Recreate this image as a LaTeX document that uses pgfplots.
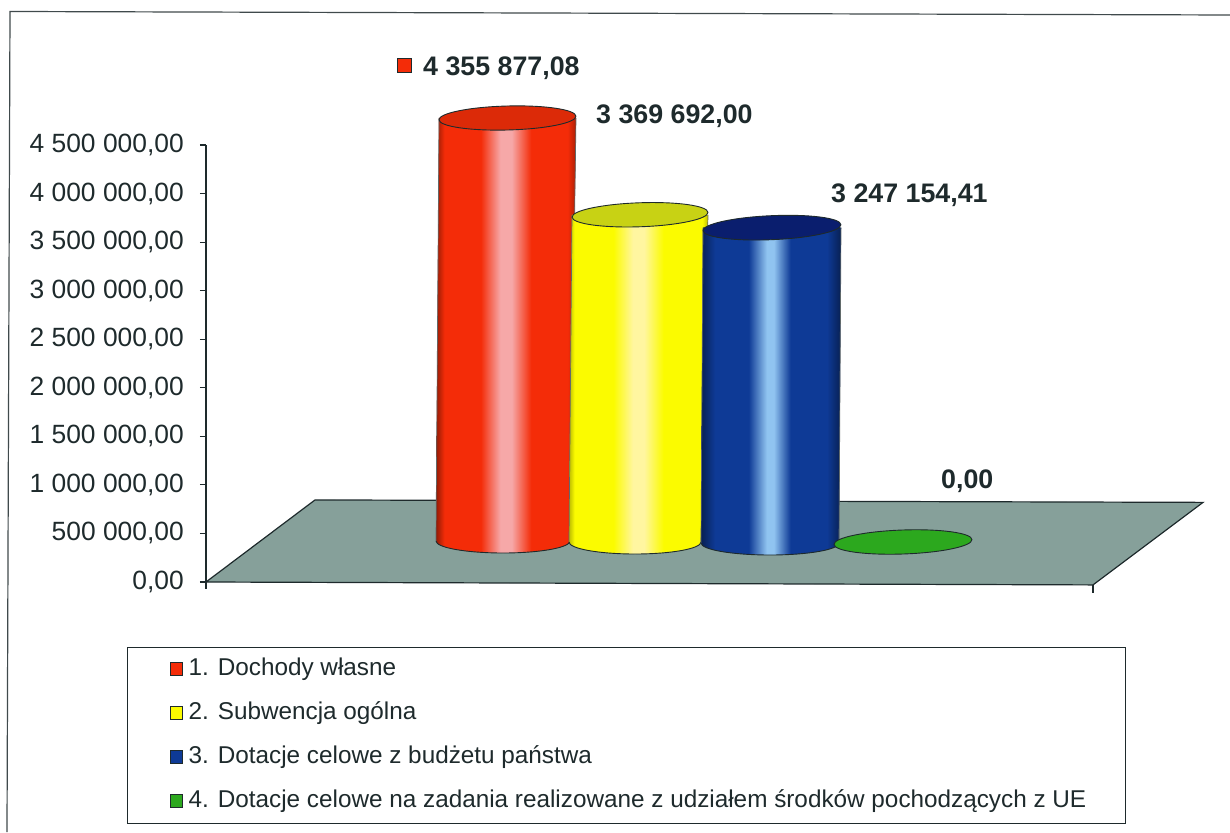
\documentclass[border=0pt]{standalone}
\usepackage{pgfplots}
\pgfplotsset{compat=1.18}
\usepackage{fontspec}
\setmainfont{Liberation Sans}
\definecolor{ink}{HTML}{1E2A2C}
\definecolor{plate}{HTML}{86A09A}
\definecolor{rc}{HTML}{F42C08}
\definecolor{rh}{HTML}{F6A8A8}
\definecolor{rt}{HTML}{DC2A08}
\definecolor{yc}{HTML}{FBFB00}
\definecolor{yh}{HTML}{FFF6A0}
\definecolor{yt}{HTML}{C8D214}
\definecolor{bc}{HTML}{0E3A96}
\definecolor{bh}{HTML}{90C4F0}
\definecolor{bt}{HTML}{0A1E6E}
\definecolor{gc}{HTML}{2CA81E}
\pgfdeclarehorizontalshading{redcyl}{100bp}{color(0bp)=(rc!60!black);color(25bp)=(rc!60!black);color(28bp)=(rc);color(41bp)=(rc);color(48bp)=(rh);color(52bp)=(rh);color(59bp)=(rc);color(72bp)=(rc);color(75bp)=(rc!70!black);color(100bp)=(rc!70!black)}
\pgfdeclarehorizontalshading{yelcyl}{100bp}{color(0bp)=(yc!75!black);color(25bp)=(yc!75!black);color(27bp)=(yc);color(41bp)=(yc);color(48bp)=(yh);color(52bp)=(yh);color(59bp)=(yc);color(73bp)=(yc);color(75bp)=(yc!75!black);color(100bp)=(yc!75!black)}
\pgfdeclarehorizontalshading{blucyl}{100bp}{color(0bp)=(bc!55!black);color(25bp)=(bc!55!black);color(30bp)=(bc);color(42bp)=(bc);color(48.5bp)=(bh);color(51bp)=(bh);color(57bp)=(bc);color(70bp)=(bc);color(75bp)=(bc!55!black);color(100bp)=(bc!55!black)}
% #1 shading, #2 value, #3 lift of the base above the axis zero (pt)
% #4 bottom left x, #5 top left x, #6 top right x, #7 bottom right x, #8 bottom x radius
\newcommand{\cylbody}[8]{%
  \path[shading=#1,yshift=#3pt] (axis cs:#4,0) arc[start angle=180,end angle=360,x radius=#8pt,y radius=12pt] -- (axis cs:#6,#2) -- (axis cs:#5,#2) -- cycle;
  \addplot[forget plot,draw=none,shading=#1,yshift=#3pt] coordinates {(#4,0) (#5,#2) (#6,#2) (#7,0)} -- cycle;
  \draw[ink,line width=0.9pt,yshift=#3pt] (axis cs:#4,0) arc[start angle=180,end angle=360,x radius=#8pt,y radius=12pt];
  \draw[ink!70,line width=0.7pt,yshift=#3pt] (axis cs:#4,0) -- (axis cs:#5,#2);
  \draw[ink!70,line width=0.7pt,yshift=#3pt] (axis cs:#7,0) -- (axis cs:#6,#2);
}
% #1 colour, #2 value, #3 lift, #4 centre x, #5 x radius, #6 tilt
\newcommand{\cylcap}[6]{%
  \draw[ink,line width=0.9pt,fill=#1,yshift=#3pt,shift={(axis cs:#4,#2)},rotate=#6] (0pt,0pt) ellipse [x radius=#5pt,y radius=12pt];
}
\begin{document}
\begin{tikzpicture}
\useasboundingbox (-206pt,-250pt) rectangle (1024pt,582pt);
\begin{scope}[x=1pt,y=-1pt,shift={(-206pt,582pt)}]
  \draw[ink!85,line width=1.2pt] (7,832) -- (10,11.5) -- (1230,15);
  \node[anchor=base west,inner sep=0pt,font=\fontsize{26.8}{30}\selectfont\bfseries,text=ink] at (423,76) {4 355 877,08};
  \draw[ink,line width=1pt,fill=rc] (397,58.5) rectangle (411,72.5);
  \node[anchor=base west,inner sep=0pt,font=\fontsize{26.8}{30}\selectfont\bfseries,text=ink] at (596,124) {3 369 692,00};
  \node[anchor=base west,inner sep=0pt,font=\fontsize{26.8}{30}\selectfont\bfseries,text=ink] at (831,203) {3 247 154,41};
  \node[anchor=base west,inner sep=0pt,font=\fontsize{26.8}{30}\selectfont\bfseries,text=ink] at (941,489) {0,00};
\end{scope}
\begin{axis}[
  at={(0pt,0pt)},anchor=origin,
  scale only axis,width=887pt,height=437pt,
  xmin=206,xmax=1093,ymin=0,ymax=4500000,
  clip=false,
  axis x line=none,
  axis y line*=left,
  axis line style={ink,line width=1.2pt,-},
  ytick={0,500000,1000000,1500000,2000000,2500000,3000000,3500000,4000000,4500000},
  scaled y ticks=false,
  yticklabel style={font=\fontsize{26.4}{30}\selectfont,text=ink,inner xsep=0pt,xshift=-16pt,
    /pgf/number format/.cd,fixed,fixed zerofill,precision=2,use comma,1000 sep={\ },assume math mode=true},
  tick align=outside,
  major tick length=6pt,
  tick style={ink,line width=1.1pt},
  legend style={at={(-79pt,-54pt)},anchor=north west,draw=ink,line width=1.2pt,inner xsep=42pt,inner ysep=10pt,
    font=\fontsize{24.3}{28}\selectfont,text=ink,row sep=20pt,
    nodes={anchor=west,text height=18pt,text depth=6pt,inner ysep=0pt,inner xsep=6pt}},
  legend cell align=left,
  legend image code/.code={},
]
\addlegendimage{legend image code/.code={\draw[ink,line width=1pt,fill=rc] (0pt,-6.5pt) rectangle (12pt,6.5pt);}}
\addlegendentry{1. Dochody własne}
\addlegendimage{legend image code/.code={\draw[ink,line width=1pt,fill=yc] (0pt,-6.5pt) rectangle (12pt,6.5pt);}}
\addlegendentry{2. Subwencja ogólna}
\addlegendimage{legend image code/.code={\draw[ink,line width=1pt,fill=bc] (0pt,-6.5pt) rectangle (12pt,6.5pt);}}
\addlegendentry{3. Dotacje celowe z budżetu państwa}
\addlegendimage{legend image code/.code={\draw[ink,line width=1pt,fill=gc] (0pt,-6.5pt) rectangle (12pt,6.5pt);}}
\addlegendentry{4. Dotacje celowe na zadania realizowane z udziałem środków pochodzących z UE\hspace*{-9pt}}
% floor of the chart
\addplot[forget plot,draw=ink,line width=1.2pt,fill=plate] coordinates {(206,0) (315,845000) (1203,820000) (1093,-30000)} -- cycle;
\addplot[forget plot,ink,line width=1.1pt] coordinates {(206,0) (206,-70000)};
\addplot[forget plot,ink,line width=1.1pt] coordinates {(1093,-30000) (1093,-110000)};
\cylbody{redcyl}{4355877.08}{41}{436}{439}{576}{570}{67}
\cylcap{rt}{4355877.08}{41}{507.5}{68.5}{1.5}
\cylbody{yelcyl}{3369692}{40}{569}{572}{708}{701}{66}
\cylcap{yt}{3369692}{40}{640}{68}{2}
\cylbody{blucyl}{3247154.41}{39}{701}{703}{841}{839}{69}
\cylcap{bt}{3247154.41}{39}{772}{69}{2.5}
% fourth series: value 0,00, only its cap shows
\cylcap{gc}{0}{40}{903}{69}{2}
\end{axis}
\end{tikzpicture}
\end{document}
